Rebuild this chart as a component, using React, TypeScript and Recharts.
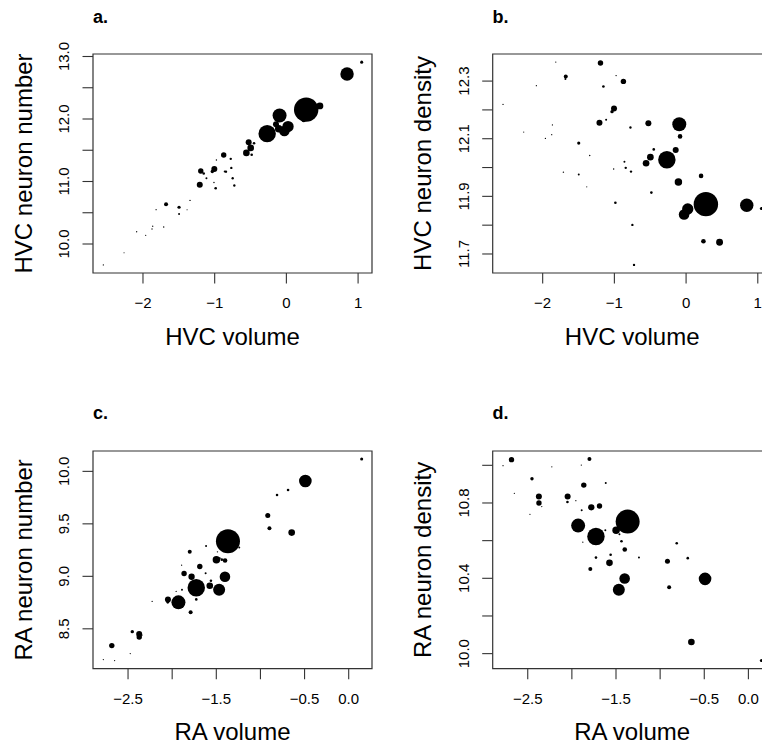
import { ScatterChart, Scatter, XAxis, YAxis, ZAxis, ReferenceArea } from 'recharts';

const FONT = '"Liberation Sans", Arial, Helvetica, sans-serif';
const INK = '#000';
const FRAME = '#333';
const MINUS = '\u2212';

// HVC — one entry per species (log scale), weight ~ symbol area
const hvcVolume = [
  1.05, 0.846, 0.276, 0.467, -0.095, 0.023, -0.028, -0.268, -0.145, -0.107,
  -0.084, 0.209, 0.242, -0.451, -0.498, -0.526, -0.558, -0.484, -0.874, -0.776,
  -0.976, -0.768, -1.005, -1.033, -1.208, -1.194, -1.115, -0.86, -0.842, -1.153,
  -1.01, -0.986, -0.749, -0.726, -1.497, -1.497, -1.344, -1.678, -1.683, -1.711,
  -1.864, -1.874, -1.817, -1.385, -1.962, -2.088, -2.264, -2.553,
];
const hvcNumber = [
  12.91, 12.72, 12.15, 12.21, 12.055, 11.879, 11.809, 11.766, 11.916, 11.843,
  12.024, 12.18, 11.986, 11.612, 11.538, 11.628, 11.457, 11.429, 11.425, 11.363,
  11.343, 11.218, 11.2, 11.161, 10.947, 11.169, 11.051, 11.16, 11.157, 11.128,
  10.985, 10.892, 11.052, 10.936, 10.588, 10.479, 10.698, 10.638, 10.625, 10.273,
  10.284, 10.24, 10.549, 10.548, 10.139, 10.196, 9.859, 9.666,
];
const hvcDensity = [
  11.858, 11.869, 11.873, 11.741, 12.15, 11.856, 11.837, 12.027, 12.061, 11.95,
  12.108, 11.971, 11.744, 12.063, 12.036, 12.154, 12.015, 11.913, 12.299, 12.139,
  12.319, 11.986, 12.205, 12.194, 12.155, 12.363, 12.166, 12.02, 11.999, 12.281,
  11.995, 11.878, 11.801, 11.662, 12.085, 11.976, 12.042, 12.316, 12.307, 11.984,
  12.148, 12.114, 12.366, 11.933, 12.101, 12.284, 12.123, 12.219,
];
const hvcWeight = [
  2.3, 45, 149, 12, 49, 32, 28, 76, 9, 14,
  5.3, 5.3, 5.3, 1.7, 11, 9, 11, 1.7, 7.3, 1.4,
  0.5, 1.4, 9, 2.9, 9, 7.3, 1, 1, 1.4, 1.7,
  0.5, 1.7, 1.4, 1.4, 2.6, 1, 0.5, 4, 1, 0.5,
  0.4, 0.4, 0.4, 0.3, 0.4, 0.4, 0.3, 0.4,
];

// RA — one entry per species
const raVolume = [
  0.147, -0.491, -0.687, -0.812, -0.917, -0.898, -0.646, -1.368, -1.616, -1.801,
  -1.499, -1.401, -1.687, -1.402, -1.865, -1.78, -1.727, -1.574, -1.468, -1.929,
  -2.048, -2.05, -1.791, -1.727, -2.452, -2.374, -2.373, -2.684, -2.78, -2.652,
  -2.475, -1.893, -1.955, -1.889, -2.227, -1.24, -1.621, -1.561, -1.461, -1.438,
  -1.876, -2.341, -1.487,
];
const raNumber = [
  10.117, 9.908, 9.823, 9.775, 9.579, 9.458, 9.417, 9.335, 9.29, 9.233,
  9.157, 9.151, 9.094, 8.996, 9.027, 8.996, 8.891, 8.91, 8.872, 8.752,
  8.78, 8.752, 8.657, 8.78, 8.473, 8.451, 8.422, 8.34, 8.207, 8.197,
  8.264, 9.106, 8.856, 8.872, 8.761, 9.274, 9.03, 8.958, 9.173, 9.159,
  8.716, 8.44, 9.233,
];
const raDensity = [
  9.963, 10.397, 10.507, 10.586, 10.491, 10.353, 10.062, 10.701, 10.906, 11.033,
  10.655, 10.553, 10.784, 10.399, 10.895, 10.777, 10.622, 10.482, 10.339, 10.68,
  10.835, 10.805, 10.45, 10.51, 10.929, 10.835, 10.8, 11.03, 10.998, 10.851,
  10.74, 11.001, 10.812, 10.761, 10.992, 10.51, 10.655, 10.525, 10.634, 10.597,
  10.592, 10.781, 10.72,
];
const raWeight = [
  2.3, 40, 1.7, 1.7, 6.3, 4, 11, 144, 1, 4,
  14, 5.3, 7.3, 28, 7.3, 10, 76, 11, 36, 49,
  9, 1.7, 4, 1.7, 2.9, 9, 7.3, 7.3, 0.4, 0.4,
  0.4, 0.4, 0.4, 1, 0.4, 1, 1, 1.7, 1, 1.7,
  0.4, 0.4, 0.5,
];

// axis ticks and their printed labels ('' = tick without label)
const hvcXTicks = [-2, -1, 0, 1];
const hvcXLabels = [MINUS + '2', MINUS + '1', '0', '1'];
const numYTicks = [10, 10.5, 11, 11.5, 12, 12.5, 13];
const numYLabels = ['10.0', '', '11.0', '', '12.0', '', '13.0'];
const denYTicks = [11.7, 11.8, 11.9, 12.0, 12.1, 12.2, 12.3];
const denYLabels = ['11.7', '', '11.9', '', '12.1', '', '12.3'];
const raXTicks = [-2.5, -2, -1.5, -1, -0.5, 0];
const raXLabels = [MINUS + '2.5', '', MINUS + '1.5', '', MINUS + '0.5', '0.0'];
const raNumYTicks = [8.5, 9, 9.5, 10];
const raNumYLabels = ['8.5', '9.0', '9.5', '10.0'];
const raDenYTicks = [10, 10.2, 10.4, 10.6, 10.8, 11];
const raDenYLabels = ['10.0', '', '10.4', '', '10.8', ''];

const rows = (xs: number[], ys: number[], ws: number[]) =>
  xs.map((x, i) => ({ x, y: ys[i], w: ws[i] }));

function pick(ticks: number[], labels: string[], v: number) {
  const i = ticks.findIndex((t) => Math.abs(t - v) < 1e-9);
  return i >= 0 ? labels[i] : '';
}

function Panel(props: any) {
  const { left, top, width, yw, mTop, xh, data, xDomain, yDomain, xTicks, xLabels, yTicks, yLabels } = props;
  return (
    <div style={{ position: 'absolute', left, top }}>
      <ScatterChart width={width} height={372} margin={{ top: mTop, right: width - yw - 279, bottom: 0, left: 0 }}>
        <XAxis
          type="number" dataKey="x" domain={xDomain} ticks={xTicks} allowDataOverflow
          height={xh} axisLine={false} tickSize={10.5} tickMargin={14}
          tickLine={{ stroke: FRAME, strokeWidth: 1.1 }} interval={0}
          tick={(p: any) => (
            <text x={p.x} y={p.y} dy="0.71em" textAnchor="middle" fontSize={15} fill={INK} fontFamily={FONT}>
              {pick(xTicks, xLabels, p.payload.value)}
            </text>
          )}
        />
        <YAxis
          type="number" dataKey="y" domain={yDomain} ticks={yTicks} allowDataOverflow
          width={yw} axisLine={false} tickSize={10.5} tickMargin={13.5}
          tickLine={{ stroke: FRAME, strokeWidth: 1.1 }} interval={0}
          tick={(p: any) => (
            <text x={p.x} y={p.y} transform={`rotate(-90 ${p.x} ${p.y})`} textAnchor="middle" fontSize={15} fill={INK} fontFamily={FONT}>
              {pick(yTicks, yLabels, p.payload.value)}
            </text>
          )}
        />
        <ZAxis type="number" dataKey="w" domain={[0, 150]} range={[0, 150 * Math.PI]} />
        <ReferenceArea
          x1={xDomain[0]} x2={xDomain[1]} y1={yDomain[0]} y2={yDomain[1]}
          fill="none" fillOpacity={0} stroke={FRAME} strokeWidth={1.2} ifOverflow="visible"
        />
        <Scatter data={data} fill={INK} shape="circle" isAnimationActive={false} />
      </ScatterChart>
    </div>
  );
}

const titleStyle = { fontFamily: FONT, fill: INK };

export default function App() {
  const hvcX: [number, number] = [-2.697, 1.194];
  const raX: [number, number] = [-2.897, 0.264];
  return (
    <div style={{ position: 'absolute', left: 0, top: 0, width: 762, height: 744, overflow: 'hidden', background: '#fff' }}>
      <Panel left={0} top={0} width={381} yw={93} mTop={54} xh={99}
        data={rows(hvcVolume, hvcNumber, hvcWeight)} xDomain={hvcX} yDomain={[9.536, 13.04]}
        xTicks={hvcXTicks} xLabels={hvcXLabels} yTicks={numYTicks} yLabels={numYLabels} />
      <Panel left={381} top={0} width={400} yw={111.7} mTop={54} xh={99}
        data={rows(hvcVolume, hvcDensity, hvcWeight)} xDomain={hvcX} yDomain={[11.634, 12.394]}
        xTicks={hvcXTicks} xLabels={hvcXLabels} yTicks={denYTicks} yLabels={denYLabels} />
      <Panel left={0} top={372} width={381} yw={93} mTop={79} xh={75.3}
        data={rows(raVolume, raNumber, raWeight)} xDomain={raX} yDomain={[8.12, 10.194]}
        xTicks={raXTicks} xLabels={raXLabels} yTicks={raNumYTicks} yLabels={raNumYLabels} />
      <Panel left={381} top={372} width={400} yw={111.7} mTop={79} xh={75.3}
        data={rows(raVolume, raDensity, raWeight)} xDomain={raX} yDomain={[9.92, 11.076]}
        xTicks={raXTicks} xLabels={raXLabels} yTicks={raDenYTicks} yLabels={raDenYLabels} />

      <svg width={762} height={744} style={{ position: 'absolute', left: 0, top: 0, pointerEvents: 'none' }}>
        <g {...titleStyle} fontWeight="bold" fontSize={18}>
          <text x={93} y={22.7}>a.</text>
          <text x={492.5} y={22.7}>b.</text>
          <text x={93} y={418.7}>c.</text>
          <text x={492.5} y={418.7}>d.</text>
        </g>
        <g {...titleStyle} fontSize={24} textAnchor="middle">
          <text x={232.5} y={345}>HVC volume</text>
          <text x={632.2} y={345}>HVC volume</text>
          <text x={232.5} y={739.5}>RA volume</text>
          <text x={632.2} y={739.5}>RA volume</text>
          <text x={32.3} y={163.5} transform="rotate(-90 32.3 163.5)">HVC neuron number</text>
          <text x={431} y={163.5} transform="rotate(-90 431 163.5)">HVC neuron density</text>
          <text x={32.3} y={559.9} transform="rotate(-90 32.3 559.9)">RA neuron number</text>
          <text x={431} y={559.9} transform="rotate(-90 431 559.9)">RA neuron density</text>
        </g>
      </svg>
    </div>
  );
}
